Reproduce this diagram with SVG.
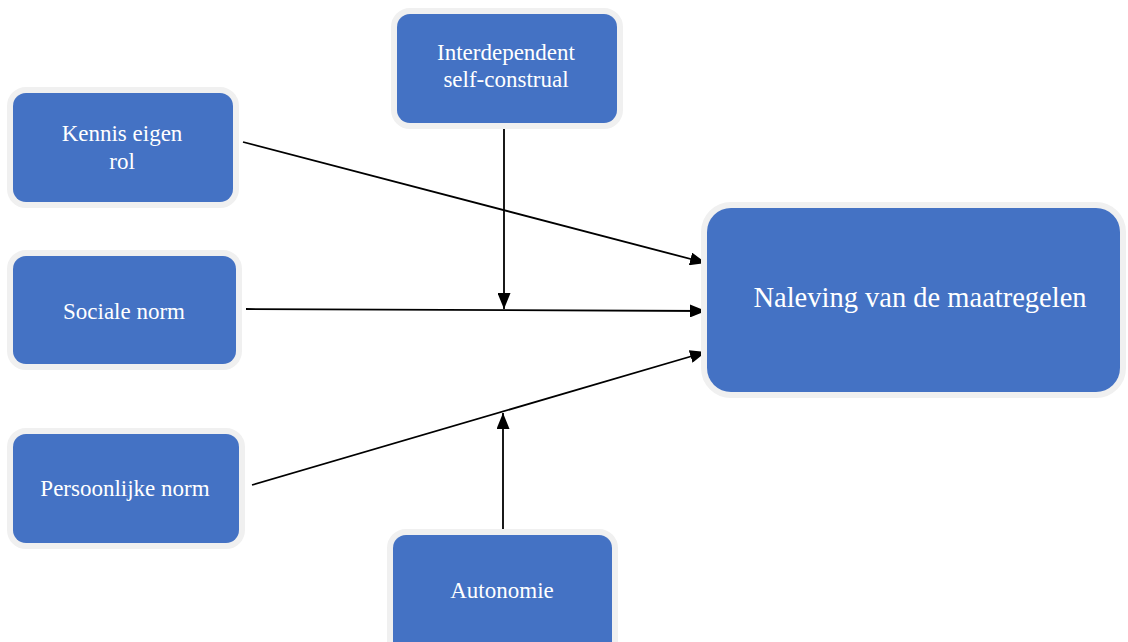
<svg xmlns="http://www.w3.org/2000/svg" width="1128" height="642" viewBox="0 0 1128 642">
<defs>
<style>
.box{fill:#4472C4;stroke:#F0F0F0;stroke-width:12;paint-order:stroke}
.lbl{font-family:"Liberation Serif","Times New Roman",serif;font-size:23px;fill:#ffffff;text-anchor:middle}
.big{font-size:28.5px}
.edge{stroke:#000;stroke-width:1.8;fill:none;marker-end:url(#ah)}
</style>
<marker id="ah" viewBox="0 0 16 13" refX="16" refY="6.5" markerWidth="16" markerHeight="13" markerUnits="userSpaceOnUse" orient="auto">
<path d="M0,0 L16,6.5 L0,13 Z" fill="#000"/>
</marker>
</defs>
<rect width="1128" height="642" fill="#ffffff"/>
<g id="connectors">
<line class="edge" x1="243" y1="142" x2="706" y2="263"/>
<line class="edge" x1="246" y1="309" x2="706" y2="311"/>
<line class="edge" x1="252" y1="485" x2="706" y2="352"/>
<line class="edge" x1="504" y1="124" x2="504" y2="309"/>
<line class="edge" x1="503" y1="530" x2="503" y2="413"/>
</g>
<g id="node-kennis">
<rect class="box" x="13" y="93" width="220" height="109" rx="13"/>
<text class="lbl" x="122" y="141">Kennis eigen</text>
<text class="lbl" x="122" y="169">rol</text>
</g>
<g id="node-interdependent">
<rect class="box" x="397" y="14" width="220" height="109" rx="13"/>
<text class="lbl" x="506" y="60">Interdependent</text>
<text class="lbl" x="506" y="87">self-construal</text>
</g>
<g id="node-sociale">
<rect class="box" x="13" y="256" width="223" height="108" rx="13"/>
<text class="lbl" x="124" y="319">Sociale norm</text>
</g>
<g id="node-persoonlijke">
<rect class="box" x="13" y="434" width="226" height="109" rx="13"/>
<text class="lbl" x="125" y="496">Persoonlijke norm</text>
</g>
<g id="node-autonomie">
<rect class="box" x="393" y="535" width="219" height="120" rx="13"/>
<text class="lbl" x="502" y="598">Autonomie</text>
</g>
<g id="node-naleving">
<rect class="box" x="707" y="208" width="413" height="184" rx="24"/>
<text class="lbl big" x="920" y="307">Naleving van de maatregelen</text>
</g>
</svg>
